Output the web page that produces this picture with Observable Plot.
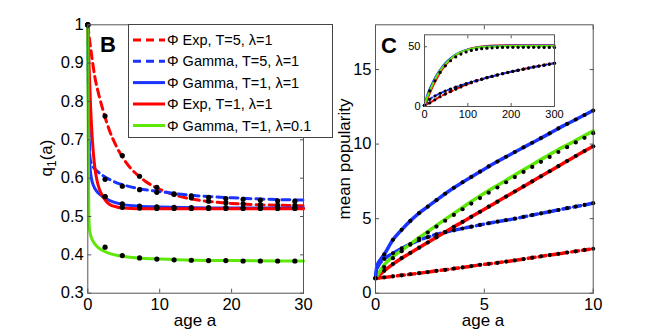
<!DOCTYPE html>
<html><head><meta charset="utf-8">
<script src="https://cdn.jsdelivr.net/npm/d3@7"></script>
<script src="https://cdn.jsdelivr.net/npm/@observablehq/plot@0.6"></script>
<style>
body{margin:0;background:#fff;}
#wrap{position:relative;width:654px;height:331px;overflow:hidden;background:#fff;}
#wrap svg{position:absolute;}
</style></head><body><div id="wrap"></div>
<script>
// ---------------- DATA ----------------
// Panel B : q1(a) vs age a
const bTicksX = [0, 10, 20, 30];
const bTicksY = [0.3, 0.4, 0.5, 0.6, 0.7, 0.8, 0.9, 1];
const bDotAges = [0, 2.4, 4.8, 7.2, 9.6, 12, 14.4, 16.8, 19.2, 21.6, 24, 26.4, 28.8];

const bExp5A = [0, 0.25, 0.5, 1, 1.5, 2, 3, 4, 5, 6, 7, 8, 10, 12, 14, 16, 18, 20, 22, 25, 28, 30];
const bExp5Q = [1, 0.96, 0.925, 0.862, 0.82, 0.785, 0.725, 0.682, 0.65, 0.625, 0.607, 0.592, 0.571, 0.557, 0.547, 0.541, 0.537, 0.534, 0.532, 0.530, 0.529, 0.528];
const bExp5Dots = [1, 0.762, 0.659, 0.605, 0.576, 0.559, 0.549, 0.540, 0.536, 0.533, 0.531, 0.530, 0.529];

const bGam5A = [0, 0.1, 0.2, 0.3, 0.5, 0.8, 1.2, 2, 3, 4, 5, 7, 10, 13, 16, 20, 25, 30];
const bGam5Q = [1, 0.8, 0.7, 0.655, 0.638, 0.628, 0.62, 0.608, 0.597, 0.588, 0.582, 0.573, 0.565, 0.558, 0.553, 0.549, 0.545, 0.543];
const bGam5Dots = [1, 0.597, 0.579, 0.570, 0.563, 0.558, 0.554, 0.550, 0.547, 0.545, 0.543, 0.541, 0.540];

const bGam1A = [0, 0.1, 0.2, 0.3, 0.5, 0.8, 1.2, 1.8, 2.5, 3.5, 5, 7, 10, 15, 20, 30];
const bGam1Q = [1, 0.78, 0.67, 0.63, 0.6, 0.58, 0.567, 0.556, 0.547, 0.538, 0.531, 0.527, 0.525, 0.523, 0.522, 0.522];
const bGam1Dots = [1, 0.552, 0.533, 0.527, 0.525, 0.524, 0.523, 0.523, 0.523, 0.522, 0.522, 0.522, 0.522];

const bExp1A = [0, 0.2, 0.4, 0.6, 0.8, 1, 1.3, 1.6, 2, 2.5, 3, 4, 5, 7, 30];
const bExp1Q = [1, 0.88, 0.78, 0.71, 0.66, 0.625, 0.592, 0.572, 0.555, 0.541, 0.532, 0.525, 0.522, 0.52, 0.52];
const bExp1Dots = [1, 0.552, 0.524, 0.522, 0.521, 0.521, 0.521, 0.521, 0.521, 0.521, 0.521, 0.521, 0.521];

const bGamL01A = [0, 0.05, 0.1, 0.15, 0.25, 0.5, 1, 1.5, 2, 3, 4, 5, 7, 10, 15, 20, 30];
const bGamL01Q = [1, 0.75, 0.58, 0.5, 0.465, 0.445, 0.428, 0.418, 0.412, 0.404, 0.399, 0.396, 0.392, 0.389, 0.386, 0.385, 0.384];
const bGamL01Dots = [1, 0.42, 0.398, 0.392, 0.389, 0.387, 0.386, 0.385, 0.385, 0.384, 0.384, 0.384, 0.384];

const legendLabels = ["\u03A6 Exp, T=5, \u03BB=1", "\u03A6 Gamma, T=5, \u03BB=1", "\u03A6 Gamma, T=1, \u03BB=1", "\u03A6 Exp, T=1, \u03BB=1", "\u03A6 Gamma, T=1, \u03BB=0.1"];

// Panel C : mean popularity vs age a
const cTicksX = [0, 5, 10];
const cTicksY = [0, 5, 10, 15];
const cDotAges = [0, 0.4, 0.8, 1.2, 1.6, 2.0, 2.4, 2.8, 3.2, 3.6, 4.0, 4.4, 4.8, 5.2, 5.6, 6.0, 6.4, 6.8, 7.2, 7.6, 8.0, 8.4, 8.8, 9.2, 9.6, 10];
const cEarlyA = [0.05, 0.1, 0.2];

const cGam1 = [1, 2.6, 3.58, 4.25, 4.85, 5.37, 5.8, 6.24, 6.67, 7.07, 7.44, 7.8, 8.15, 8.5, 8.83, 9.15, 9.47, 9.78, 10.09, 10.4, 10.72, 11.05, 11.35, 11.65, 11.95, 12.25];
const cGam1Early = [1.7, 1.95, 2.2];
const cGamL01Line = [1, 1.9, 2.45, 2.88, 3.3, 3.72, 4.13, 4.55, 4.95, 5.35, 5.75, 6.15, 6.52, 6.88, 7.23, 7.58, 7.93, 8.28, 8.62, 8.96, 9.3, 9.64, 9.93, 10.25, 10.57, 10.88];
const cGamL01Dots = [1, 1.75, 2.35, 2.82, 3.25, 3.67, 4.07, 4.47, 4.86, 5.25, 5.63, 6.01, 6.38, 6.74, 7.09, 7.44, 7.79, 8.13, 8.47, 8.81, 9.14, 9.47, 9.79, 10.11, 10.42, 10.73];
const cExp1 = [1, 1.5, 1.95, 2.35, 2.7, 3.05, 3.4, 3.75, 4.1, 4.45, 4.78, 5.12, 5.46, 5.8, 6.14, 6.48, 6.82, 7.16, 7.5, 7.84, 8.18, 8.52, 8.86, 9.2, 9.53, 9.85];
const cGam5 = [1, 2.3, 2.68, 3.0, 3.3, 3.55, 3.76, 3.94, 4.09, 4.22, 4.34, 4.46, 4.58, 4.69, 4.8, 4.9, 5.0, 5.12, 5.24, 5.35, 5.47, 5.58, 5.7, 5.81, 5.92, 6.04];
const cGam5Early = [1.5, 1.75, 2.0];
const cExp5 = [1, 1.06, 1.13, 1.2, 1.27, 1.34, 1.42, 1.5, 1.57, 1.65, 1.73, 1.81, 1.9, 1.97, 2.04, 2.12, 2.2, 2.29, 2.38, 2.47, 2.56, 2.64, 2.73, 2.81, 2.9, 2.98];

// Inset of panel C (age 0..300)
const iTicksX = [0, 100, 200, 300];
const iTicksY = [0, 50];
const iDotAges = [0, 12, 24, 36, 48, 60, 72, 84, 96, 108, 120, 132, 144, 156, 168, 180, 192, 204, 216, 228, 240, 252, 264, 276, 288, 300];
const iLineAges = [0, 5, 10, 20, 30, 40, 50, 60, 70, 80, 100, 120, 140, 160, 200, 250, 300];
const iGam1Line = [1, 8, 13, 21, 27.5, 32.8, 37, 40.3, 43, 45, 47.8, 49.3, 50.2, 50.7, 51, 51.1, 51.1];
const iExp1Line = [1, 4.5, 9, 17.5, 24.5, 30.5, 35.3, 39.2, 42.2, 44.6, 47.8, 49.6, 50.5, 51, 51.3, 51.3, 51.3];
const iGamL01Line = [1, 6.5, 11, 19.5, 26.5, 32, 36.3, 39.8, 42.6, 44.8, 47.6, 49.1, 49.9, 50.3, 50.6, 50.7, 50.7];
const iTopDots = [1, 13, 21.5, 28.5, 34, 38.3, 41.5, 43.9, 45.6, 46.9, 47.8, 48.4, 48.8, 49.1, 49.3, 49.4, 49.5, 49.5, 49.5, 49.5, 49.5, 49.5, 49.5, 49.4, 49.4, 49.3];
const iGam5 = [1, 6, 8.8, 11, 12.9, 14.6, 16.2, 17.7, 19.1, 20.4, 21.7, 22.9, 24.1, 25.2, 26.3, 27.4, 28.4, 29.4, 30.3, 31.2, 32.1, 33, 33.8, 34.6, 35.4, 36.2];
const iExp5 = [1, 3.0, 5.6, 8.2, 10.4, 12.5, 14.5, 16.4, 18.2, 19.9, 21.4, 22.8, 24.1, 25.3, 26.4, 27.5, 28.5, 29.5, 30.4, 31.3, 32.2, 33.1, 33.9, 34.7, 35.5, 36.3];

// ---------------- STYLE ----------------
const FONT = '"Liberation Sans", Arial, Helvetica, sans-serif';
const RED = "#ff0000", BLUE = "#1a33ff", GREEN = "#5ee80a";
const AX = "#555";

const zip = (xs, ys) => xs.map((x, i) => ({x, y: ys[i]}));
const fmt = d => String(d);
const blank = () => "";

function boxAxes(xt, yt, fs, tl, padX, padY) {
  return [
    Plot.frame({stroke: AX}),
    Plot.axisX({anchor: "bottom", ticks: xt, tickSize: -tl, tickPadding: padX, tickFormat: fmt, fontSize: fs, stroke: AX, fill: "black", label: null}),
    Plot.axisX({anchor: "top", ticks: xt, tickSize: -tl, tickFormat: blank, stroke: AX, label: null}),
    Plot.axisY({anchor: "left", ticks: yt, tickSize: -tl, tickPadding: padY, tickFormat: fmt, fontSize: fs, stroke: AX, fill: "black", label: null}),
    Plot.axisY({anchor: "right", ticks: yt, tickSize: -tl, tickFormat: blank, stroke: AX, label: null})
  ];
}
const svgStyle = {background: "transparent", fontFamily: FONT, overflow: "visible"};
const wrap = document.getElementById("wrap");

// ---------------- PANEL B ----------------
const bSeries = [
  {la: bExp5A, lq: bExp5Q, d: bExp5Dots, c: RED, dash: "8,5"},
  {la: bGam5A, lq: bGam5Q, d: bGam5Dots, c: BLUE, dash: "8,5"},
  {la: bGam1A, lq: bGam1Q, d: bGam1Dots, c: BLUE, dash: null},
  {la: bExp1A, lq: bExp1Q, d: bExp1Dots, c: RED, dash: null},
  {la: bGamL01A, lq: bGamL01Q, d: bGamL01Dots, c: GREEN, dash: null}
];
const svgB = Plot.plot({
  width: 330, height: 331, marginLeft: 87.3, marginRight: 27, marginTop: 24.3, marginBottom: 38.3,
  x: {domain: [0, 30], label: null}, y: {domain: [0.3, 1], label: null},
  style: svgStyle,
  marks: [
    ...bSeries.map(s => Plot.line(zip(s.la, s.lq), {x: "x", y: "y", stroke: s.c, strokeWidth: 3, strokeDasharray: s.dash, curve: "monotone-x"})),
    ...bSeries.map(s => Plot.dot(zip(bDotAges, s.d), {x: "x", y: "y", r: 2.6, fill: "black"})),
    ...boxAxes(bTicksX, bTicksY, 16.5, 4, 9.5, 8)
  ]
});
svgB.style.left = "0px"; svgB.style.top = "0px";
wrap.appendChild(svgB);

// ---------------- PANEL C ----------------
const cSeries = [
  {a: cDotAges, l: cExp5, d: cExp5, c: RED, dash: "7,4", early: null},
  {a: cDotAges, l: cGam5, d: cGam5, c: BLUE, dash: "7,4", early: cGam5Early},
  {a: cDotAges, l: cExp1, d: cExp1, c: RED, dash: null, early: null},
  {a: cDotAges, l: cGamL01Line, d: cGamL01Dots, c: GREEN, dash: null, early: null},
  {a: cDotAges, l: cGam1, d: cGam1, c: BLUE, dash: null, early: cGam1Early}
];
function withEarly(s) {
  const pts = zip(s.a, s.l);
  if (s.early) pts.splice(1, 0, ...zip(cEarlyA, s.early));
  return pts;
}
const svgC = Plot.plot({
  width: 324, height: 331, marginLeft: 45, marginRight: 61.3, marginTop: 24.3, marginBottom: 38.3,
  x: {domain: [0, 10], label: null}, y: {domain: [0, 18], label: null},
  style: svgStyle,
  marks: [
    ...cSeries.map(s => Plot.line(withEarly(s), {x: "x", y: "y", stroke: s.c, strokeWidth: 3.5, strokeDasharray: s.dash, curve: "monotone-x"})),
    ...cSeries.map(s => Plot.dot(zip(s.a, s.d), {x: "x", y: "y", r: 2.1, fill: "black"})),
    ...boxAxes(cTicksX, cTicksY, 16.5, 4, 9.5, 8)
  ]
});
svgC.style.left = "330px"; svgC.style.top = "0px";
wrap.appendChild(svgC);

// ---------------- INSET ----------------
const svgI = Plot.plot({
  width: 170, height: 110, marginLeft: 24, marginRight: 16, marginTop: 14.3, marginBottom: 24,
  x: {domain: [0, 300], label: null}, y: {domain: [0, 60], label: null},
  style: svgStyle,
  marks: [
    Plot.frame({fill: "white"}),
    Plot.line(zip(iDotAges, iExp5), {x: "x", y: "y", stroke: RED, strokeWidth: 2, strokeDasharray: "4,3", curve: "monotone-x"}),
    Plot.line(zip(iDotAges, iGam5), {x: "x", y: "y", stroke: BLUE, strokeWidth: 2, strokeDasharray: "4,3", curve: "monotone-x"}),
    Plot.line(zip(iLineAges, iExp1Line), {x: "x", y: "y", stroke: RED, strokeWidth: 2, curve: "monotone-x"}),
    Plot.line(zip(iLineAges, iGam1Line), {x: "x", y: "y", stroke: BLUE, strokeWidth: 2, curve: "monotone-x"}),
    Plot.line(zip(iLineAges, iGamL01Line), {x: "x", y: "y", stroke: GREEN, strokeWidth: 2, curve: "monotone-x"}),
    Plot.dot(zip(iDotAges, iExp5), {x: "x", y: "y", r: 1.6, fill: "black"}),
    Plot.dot(zip(iDotAges, iGam5), {x: "x", y: "y", r: 1.6, fill: "black"}),
    Plot.dot(zip(iDotAges, iTopDots), {x: "x", y: "y", r: 1.6, fill: "black"}),
    ...boxAxes(iTicksX, iTicksY, 11, 3, 7, 7)
  ]
});
svgI.style.left = "400px"; svgI.style.top = "20px";
wrap.appendChild(svgI);

// ---------------- LABELS & LEGEND ----------------
const ov = d3.create("svg").attr("width", 654).attr("height", 331)
  .style("left", "0px").style("top", "0px").style("font-family", FONT).style("overflow", "visible");

// legend
const lg = ov.append("g");
lg.append("rect").attr("x", 128.5).attr("y", 24.5).attr("width", 204).attr("height", 113)
  .attr("fill", "white").attr("stroke", "#444");
const legendRowsY = [40, 61.3, 82.6, 104, 125.5];
legendLabels.forEach((t, i) => {
  const s = bSeries[i];
  lg.append("line").attr("x1", 133).attr("x2", 165).attr("y1", legendRowsY[i]).attr("y2", legendRowsY[i])
    .attr("stroke", s.c).attr("stroke-width", 3).attr("stroke-dasharray", s.dash);
  lg.append("text").attr("x", 167).attr("y", legendRowsY[i]).attr("dy", "0.35em")
    .attr("font-size", 14.5).text(t);
});

// panel letters
ov.append("text").attr("x", 100).attr("y", 52).attr("font-size", 22).attr("font-weight", "bold").text("B");
ov.append("text").attr("x", 381).attr("y", 53).attr("font-size", 22).attr("font-weight", "bold").text("C");

// axis labels
ov.append("text").attr("x", 195).attr("y", 326).attr("text-anchor", "middle").attr("font-size", 17).text("age a");
ov.append("text").attr("x", 483).attr("y", 326).attr("text-anchor", "middle").attr("font-size", 17).text("age a");
const ql = ov.append("text").attr("transform", "translate(52,158) rotate(-90)").attr("text-anchor", "middle").attr("font-size", 17);
ql.append("tspan").text("q");
ql.append("tspan").attr("font-size", 12).attr("dy", 4).text("1");
ql.append("tspan").attr("dy", -4).text("(a)");
ov.append("text").attr("transform", "translate(350,159) rotate(-90)").attr("text-anchor", "middle").attr("font-size", 17).text("mean popularity");

wrap.appendChild(ov.node());
</script></body></html>
